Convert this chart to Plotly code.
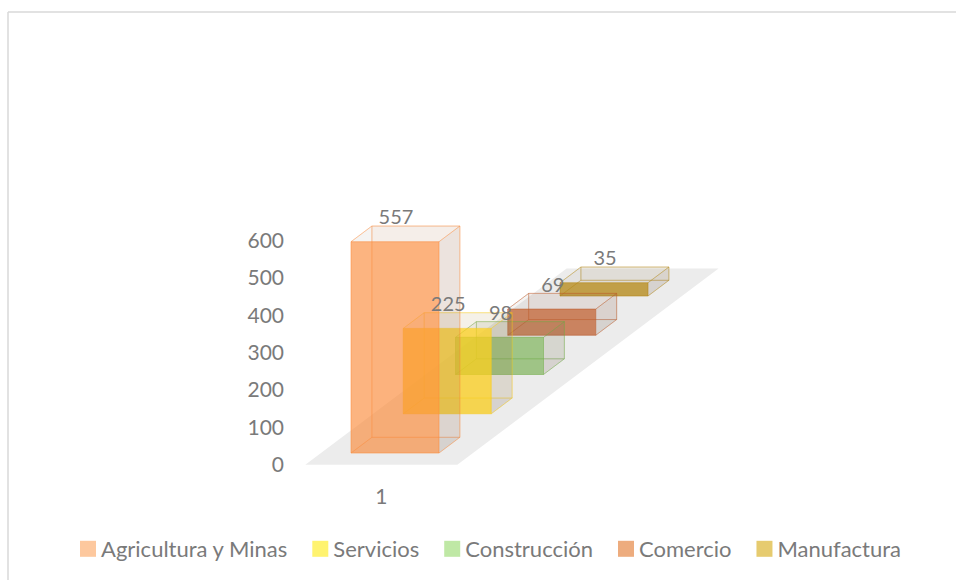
import plotly.graph_objects as go

# --- data ---
series_names = ["Agricultura y Minas", "Servicios", "Construcción", "Comercio", "Manufactura"]
series_values = [557, 225, 98, 69, 35]
categories = ["1"]
y_ticks = [0, 100, 200, 300, 400, 500, 600]

# --- styles (r, g, b) ---
front_rgb = [(251, 140, 60), (250, 205, 30), (112, 173, 71), (190, 90, 40), (180, 135, 20)]
front_alpha = [0.65, 0.75, 0.6, 0.7, 0.75]
swatches = ["#FDC89E", "#FFF36F", "#BFE8A5", "#EDAC7E", "#E6CB6F"]
TEXT = "#7a7a7a"
FONT = "Lato"
W, H = 956, 580

# --- oblique projection of the 3-D chart onto the 2-D axes ---
PX_PER_UNIT = 224 / 600          # value axis scale in pixels
ZERO_PX = 464.7                  # pixel row of value 0
X_STEP, DEPTH_RISE = 52.25, 39.25 / PX_PER_UNIT
V_SCALE = 1.016
BAR_X0, BAR_W, BAR_D = 351, 88, 0.4
BASE = (ZERO_PX - 453) / PX_PER_UNIT


def project(x, d, v):
    return x + d * X_STEP, BASE + d * DEPTH_RISE + v * V_SCALE


def poly(pts, fill, line, width=1.0):
    xs, ys = zip(*[project(*p) for p in pts + pts[:1]])
    return go.Scatter(x=xs, y=ys, mode="lines", fill="toself", fillcolor=fill,
                      line=dict(color=line, width=width), hoverinfo="skip", showlegend=False)


fig = go.Figure()

# floor
n = len(series_values)
fl, fr, d0, d1 = BAR_X0 - 30, BAR_X0 + 122, -0.3, n - 0.3
fig.add_trace(poly([(fl, d0, 0), (fr, d0, 0), (fr, d1, 0), (fl, d1, 0)], "#ECECEC", "rgba(0,0,0,0)", 0))

# bars, back to front
for i in range(n - 1, -1, -1):
    v = series_values[i]
    r, g, b = front_rgb[i]
    x0, x1, a, c = BAR_X0, BAR_X0 + BAR_W, i, i + BAR_D
    edge = f"rgba({r},{g},{b},0.3)"
    side = "rgba(120,100,85,0.14)"
    back = f"rgba({r},{g},{b},0.05)"
    faces = [
        ([(x0, c, 0), (x1, c, 0), (x1, c, v), (x0, c, v)], back),                # back
        ([(x0, a, 0), (x0, c, 0), (x0, c, v), (x0, a, v)], "rgba(0,0,0,0)"),     # left
        ([(x0, a, 0), (x1, a, 0), (x1, c, 0), (x0, c, 0)], "rgba(120,100,85,0.05)"),  # bottom
        ([(x1, a, 0), (x1, c, 0), (x1, c, v), (x1, a, v)], side),                # right
        ([(x0, a, v), (x1, a, v), (x1, c, v), (x0, c, v)], "rgba(120,100,85,0.07)"),  # top
        ([(x0, a, 0), (x1, a, 0), (x1, a, v), (x0, a, v)], f"rgba({r},{g},{b},{front_alpha[i]})"),  # front
    ]
    for pts, fill in faces:
        fig.add_trace(poly(pts, fill, edge))

# data labels
lab_x, lab_y = [], []
for i, v in enumerate(series_values):
    px, py = project(BAR_X0 + BAR_W / 2 + 1, i, v)
    lab_x.append(px)
    lab_y.append(py + 22.5 / PX_PER_UNIT)
fig.add_trace(go.Scatter(x=lab_x, y=lab_y, mode="text", text=[str(v) for v in series_values],
                         textposition="middle center",
                         textfont=dict(family=FONT, size=20, color=TEXT),
                         hoverinfo="skip", showlegend=False))

# legend entries
for name, col in zip(series_names, swatches):
    fig.add_trace(go.Scatter(x=[None], y=[None], mode="markers", name=name,
                             marker=dict(symbol="square", size=16, color=col, angle=90, standoff=7)))

cat_x = BAR_X0 - 30 + 76 + d0 * X_STEP
fig.update_layout(
    width=W, height=H, autosize=False,
    margin=dict(l=0, r=0, t=0, b=0),
    paper_bgcolor="white", plot_bgcolor="white",
    font=dict(family=FONT, size=21, color=TEXT),
    xaxis=dict(range=[0, W], domain=[0, 1], anchor="free", position=1 - 482 / H,
               tickmode="array", tickvals=[cat_x], ticktext=categories,
               showgrid=False, zeroline=False, showline=False, ticks=""),
    yaxis=dict(range=[(ZERO_PX - H) / PX_PER_UNIT, ZERO_PX / PX_PER_UNIT], domain=[0, 1],
               anchor="free", position=284 / W,
               tickmode="array", tickvals=y_ticks,
               showgrid=False, zeroline=False, showline=False, ticks=""),
    legend=dict(orientation="h", x=60 / W, xanchor="left", y=1 - 528 / H, yanchor="top",
                indentation=1, font=dict(family=FONT, size=22, color=TEXT),
                bgcolor="rgba(0,0,0,0)"),
    shapes=[
        dict(type="line", xref="paper", yref="paper", x0=8 / W, x1=1, y0=1 - 12 / H, y1=1 - 12 / H,
             line=dict(color="#D9D9D9", width=1.5)),
        dict(type="line", xref="paper", yref="paper", x0=8 / W, x1=8 / W, y0=0, y1=1 - 12 / H,
             line=dict(color="#D9D9D9", width=1.5)),
    ],
)
fig.write_html("out.html", post_script="document.body.style.margin='0';",
               config={"displayModeBar": False})
